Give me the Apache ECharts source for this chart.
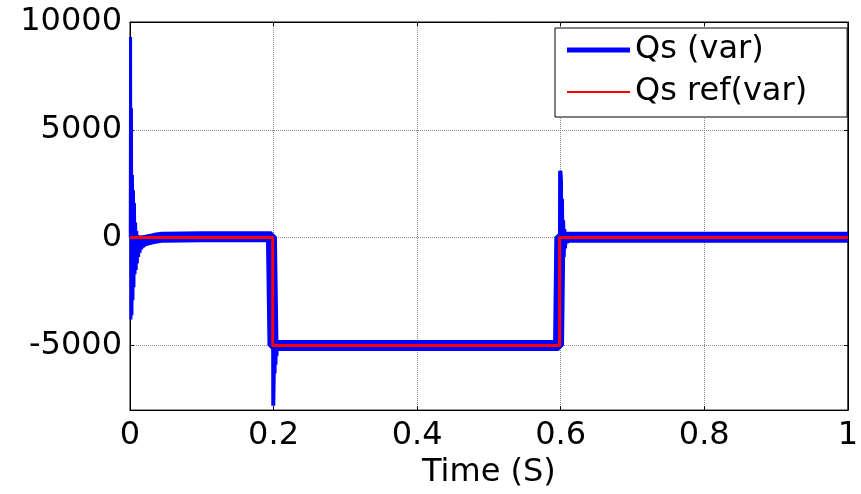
<!DOCTYPE html>
<html>
<head>
<meta charset="utf-8">
<script src="https://cdn.jsdelivr.net/npm/echarts@6/dist/echarts.min.js"></script>
<style>html,body{margin:0;padding:0;background:#fff;}#c{width:861px;height:494px;}</style>
</head>
<body>
<div id="c"></div>
<script>
// ---- data ----
const xTicks = [0, 0.2, 0.4, 0.6, 0.8, 1];
const yTicks = [-5000, 0, 5000, 10000];

// Qs reference (var)
const refTime = [0, 0.1988, 0.1988, 0.5985, 0.5985, 1];
const refVals = [0, 0, -5000, -5000, 0, 0];

// Qs (var) - settled band (drawn thick to show ripple band)
const bandTime = [0.014, 0.02, 0.027, 0.035, 0.045, 0.1, 0.197, 0.1992, 0.1992, 0.21, 0.4, 0.597, 0.5988, 0.5988, 0.62, 0.8, 1];
const bandVals = [-250, -160, -90, -30, 20, 40, 40, 40, -5000, -5000, -5000, -5000, -5000, 20, 20, 20, 20];

// Qs (var) - transients (start, step at 0.2, step at 0.6)
const startTime = [0.0004, 0.0008, 0.0013, 0.002, 0.0027, 0.0034, 0.0041, 0.0048, 0.0055, 0.0062, 0.007, 0.0078, 0.0086, 0.0094, 0.0102, 0.011, 0.012, 0.013, 0.014, 0.015, 0.0162, 0.0175, 0.019, 0.0205, 0.022, 0.0235, 0.025, 0.027, 0.029, 0.031, 0.033, 0.035, 0.0375, 0.04, 0.0425, 0.045, 0.048];
const startVals = [0, 9300, -3800, 6000, -3600, 2900, -2900, 2200, -2300, 1600, -1700, 700, -1500, 300, -1200, 120, -900, 100, -700, 100, -550, 110, -450, 120, -380, 120, -320, 130, -280, 130, -240, 130, -200, 130, -160, 120, -100];

const step1Time = [0.1992, 0.1996, 0.2002, 0.2008, 0.2014, 0.202, 0.2026, 0.2033, 0.204, 0.2048, 0.2056, 0.2065];
const step1Vals = [0, -7800, -6500, -3400, -6300, -3900, -5900, -4500, -5500, -4800, -5200, -5000];

const step2Time = [0.5988, 0.5992, 0.5998, 0.6004, 0.6012, 0.6018, 0.6026, 0.6034, 0.6042, 0.605, 0.606, 0.607, 0.6085, 0.61];
const step2Vals = [-5000, 3100, 3000, 2600, -1900, 1800, -1300, 800, -900, 400, -500, 200, -250, 0];

const zip = (t, v) => t.map((x, i) => [x, v[i]]);

const FONT = 'DejaVu Sans';
const FS = 32;
const plain = v => String(+(+v).toFixed(1));

const chart = echarts.init(document.getElementById('c'), null, {renderer: 'canvas'});
const blue = '#0000FF', red = '#FF0000';

// legend line icons (thick blue, thin red) inside a 63x14 box
const iconBlue = 'path://M0,0h0.01v0.01h-0.01zM0,4.5h63v5h-63zM62.99,13.99h0.01v0.01h-0.01z';
const iconRed = 'path://M0,0h0.01v0.01h-0.01zM0,6h63v2h-63zM62.99,13.99h0.01v0.01h-0.01z';

chart.setOption({
  animation: false,
  backgroundColor: '#fff',
  textStyle: {fontFamily: FONT},
  grid: {left: 130, right: 8.5, top: 22, bottom: 79, show: true, borderColor: '#000', borderWidth: 1, backgroundColor: '#fff'},
  legend: {
    left: 555, top: 28,
    orient: 'vertical',
    data: [
      {name: 'Qs (var)', icon: iconBlue, itemStyle: {color: blue}},
      {name: 'Qs ref(var)', icon: iconRed, itemStyle: {color: red}}
    ],
    symbolKeepAspect: false,
    itemWidth: 63, itemHeight: 14, itemGap: 10,
    padding: [6, 40, 9, 12],
    backgroundColor: '#fff', borderColor: '#000', borderWidth: 1, borderRadius: 0,
    textStyle: {fontFamily: FONT, fontSize: FS, color: '#000'}
  },
  xAxis: [{
    type: 'value', min: 0, max: 1, interval: 0.2,
    name: 'Time (S)', nameLocation: 'middle', nameGap: 42,
    nameTextStyle: {fontFamily: FONT, fontSize: FS, color: '#000'},
    axisLine: {onZero: false, lineStyle: {color: '#000', width: 1}},
    axisTick: {inside: true, length: 4, lineStyle: {color: '#000'}},
    axisLabel: {fontFamily: FONT, fontSize: FS, color: '#000', margin: 10, formatter: plain},
    splitLine: {show: true, lineStyle: {color: '#8a8a8a', type: 'dotted', width: 1}}
  }, {
    type: 'value', position: 'top', min: 0, max: 1, interval: 0.2,
    axisLine: {show: true, onZero: false, lineStyle: {color: '#000'}},
    axisTick: {inside: true, length: 4, lineStyle: {color: '#000'}},
    axisLabel: {show: false}, splitLine: {show: false}
  }],
  yAxis: [{
    type: 'value', min: -8000, max: 10000,
    axisLine: {show: true, onZero: false, lineStyle: {color: '#000', width: 1}},
    axisTick: {show: true, inside: true, length: 4, lineStyle: {color: '#000'}, customValues: yTicks},
    axisLabel: {fontFamily: FONT, fontSize: FS, color: '#000', margin: 8, customValues: yTicks, formatter: plain},
    splitLine: {show: true, lineStyle: {color: '#8a8a8a', type: 'dotted', width: 1}}
  }, {
    type: 'value', position: 'right', min: -8000, max: 10000,
    axisLine: {show: true, onZero: false, lineStyle: {color: '#000'}},
    axisTick: {show: true, inside: true, length: 4, lineStyle: {color: '#000'}, customValues: yTicks},
    axisLabel: {show: false, customValues: yTicks}, splitLine: {show: false}
  }],
  series: [
    {name: 'Qs (var)', type: 'line', data: zip(bandTime, bandVals), showSymbol: false, symbol: 'none',
     lineStyle: {color: blue, width: 11}, itemStyle: {color: blue}, z: 2},
    {name: 'Qs start', type: 'line', data: zip(startTime, startVals), showSymbol: false, symbol: 'none',
     lineStyle: {color: blue, width: 3}, itemStyle: {color: blue}, z: 2},
    {name: 'Qs step1', type: 'line', data: zip(step1Time, step1Vals), showSymbol: false, symbol: 'none',
     lineStyle: {color: blue, width: 4}, itemStyle: {color: blue}, z: 2},
    {name: 'Qs step2', type: 'line', data: zip(step2Time, step2Vals), showSymbol: false, symbol: 'none',
     lineStyle: {color: blue, width: 4}, itemStyle: {color: blue}, z: 2},
    {name: 'Qs ref(var)', type: 'line', data: zip(refTime, refVals), showSymbol: false, symbol: 'none',
     lineStyle: {color: red, width: 3}, itemStyle: {color: red}, z: 3}
  ]
});
</script>
</body>
</html>
